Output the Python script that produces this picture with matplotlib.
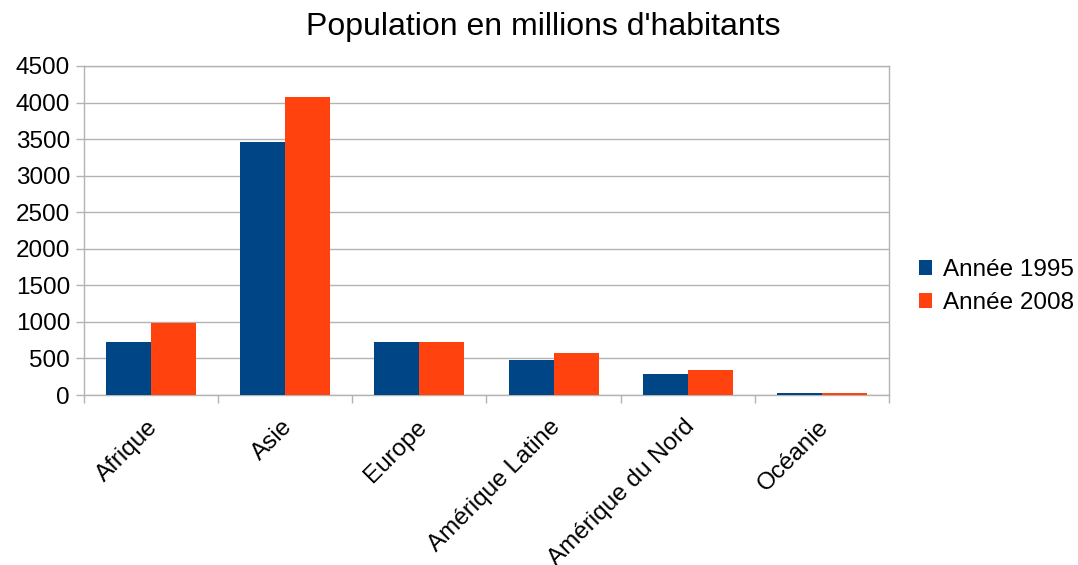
import matplotlib
matplotlib.use('Agg')
import matplotlib.pyplot as plt
import matplotlib.transforms as mtransforms
import numpy as np

categories = ["Afrique", "Asie", "Europe", "Amérique Latine", "Amérique du Nord", "Océanie"]
pop_1995 = [726, 3455, 727, 479, 288, 28]
pop_2008 = [986, 4077, 727, 575, 342, 34]
series_names = ["Année 1995", "Année 2008"]
yticks = np.arange(0, 4501, 500)

plt.rcParams['font.family'] = ['Liberation Sans', 'DejaVu Sans']

BLUE = '#004586'
ORANGE = '#ff420e'
GRID = '#b3b3b3'
FS = 17.5

fig = plt.figure(figsize=(10.78, 5.65), dpi=100)
ax = fig.add_axes([84 / 1078, 1 - 395 / 565, 805 / 1078, 329 / 565])

x = np.arange(len(categories))
w = 0.335
ax.bar(x - w / 2, pop_1995, width=w, color=BLUE, label=series_names[0], zorder=3)
ax.bar(x + w / 2, pop_2008, width=w, color=ORANGE, label=series_names[1], zorder=3)

ax.set_xlim(-0.5, len(categories) - 0.5)
ax.set_ylim(0, 4500)
ax.set_yticks(yticks)
ax.yaxis.grid(True, color=GRID, linewidth=1, zorder=0)

# ticks on category boundaries, labels at centres
ax.set_xticks(np.arange(-0.5, len(categories) + 0.5, 1))
ax.set_xticklabels([])
ax.set_xticks(x, minor=True)
ax.set_xticklabels(categories, minor=True, rotation=45, ha='right',
                   rotation_mode='anchor', fontsize=FS)
ax.tick_params(axis='x', which='minor', length=0, pad=15)
ax.tick_params(axis='x', which='major', length=6, color=GRID, width=1)
ax.tick_params(axis='y', length=6, color=GRID, width=1, labelsize=FS, pad=4)

shift = mtransforms.ScaledTranslation(-4 / 100, 0, fig.dpi_scale_trans)
for lbl in ax.get_xticklabels(minor=True):
    lbl.set_transform(lbl.get_transform() + shift)

for s in ax.spines.values():
    s.set_color(GRID)
    s.set_linewidth(1)

fig.text(543 / 1078, 1 - 27 / 565, "Population en millions d'habitants",
         fontsize=23, ha='center', va='center')

ax.legend(loc='center left', bbox_to_anchor=(1.025, 0.33), frameon=False,
          fontsize=FS, handlelength=0.55, handleheight=0.55, handletextpad=0.45,
          labelspacing=0.45, borderaxespad=0)

fig.savefig('out.png', dpi=100)
